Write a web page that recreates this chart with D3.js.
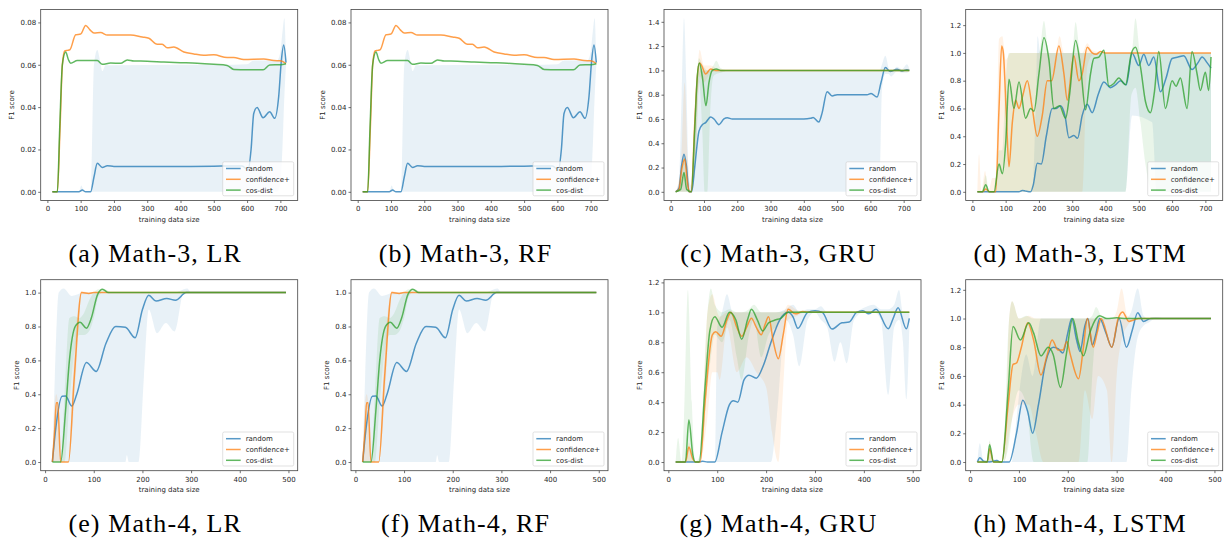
<!DOCTYPE html>
<html>
<head>
<meta charset="utf-8">
<script src="https://cdn.jsdelivr.net/npm/d3@7"></script>
<style>
  body { margin: 0; background: #fff; }
  svg { display: block; }
  text { font-family: "DejaVu Sans", sans-serif; fill: #262626; }
  .cap { font-family: "Liberation Serif", serif; fill: #000; }
</style>
</head>
<body>
<svg width="1230" height="540"></svg>
<script>
// series names + colours (matplotlib tab10)
const seriesNames = ['random', 'confidence+', 'cos-dist'];
const colors = ['#1f77b4', '#ff7f0e', '#2ca02c'];

// tick labels
const xTicksM3 = [0, 100, 200, 300, 400, 500, 600, 700];
const xTicksM4 = [0, 100, 200, 300, 400, 500];
const yTicksSmall = [0, 0.02, 0.04, 0.06, 0.08];
const yTicks14 = [0, 0.2, 0.4, 0.6, 0.8, 1.0, 1.2, 1.4];
const yTicks12 = [0, 0.2, 0.4, 0.6, 0.8, 1.0, 1.2];
const yTicks10 = [0, 0.2, 0.4, 0.6, 0.8, 1.0];

// ---- Math-3, LR (RF panel looks the same) : [size, f1]  bands: [size, lo, hi]
const m3lr_random = [[15,0],[60,0],[95,0],[105,0.0008],[115,0],[130,0],[140,0.007],[150,0.0135],[165,0.0115],[180,0.0123],[200,0.012],[300,0.012],[400,0.012],[500,0.0121],[560,0.0122],[585,0.0122],[603,0.0102],[612,0.02],[620,0.037],[630,0.0398],[648,0.035],[668,0.0378],[683,0.0347],[695,0.045],[703,0.062],[710,0.0693],[717,0.061]];
const m3lr_randomBand = [[15,0,0],[95,0,0],[102,0,0.003],[110,0,0],[130,0,0],[140,0,0.06],[150,0,0.067],[158,0,0.062],[165,0,0.057],[175,0,0.0598],[200,0,0.0598],[400,0,0.060],[560,0,0.060],[600,0,0.0602],[620,0,0.062],[690,0,0.062],[700,0.004,0.066],[706,0.02,0.075],[712,0.045,0.082],[717,0.06,0.0615]];
const m3lr_conf = [[15,0],[30,0],[38,0.03],[45,0.06],[52,0.0665],[60,0.0668],[68,0.0672],[85,0.0742],[100,0.0745],[115,0.0786],[128,0.0765],[140,0.075],[160,0.0752],[180,0.074],[250,0.0741],[285,0.0731],[305,0.0725],[330,0.0697],[345,0.0697],[360,0.068],[380,0.0684],[410,0.066],[440,0.0651],[470,0.0645],[500,0.0647],[540,0.0634],[560,0.0634],[590,0.0625],[650,0.0627],[680,0.062],[700,0.0619],[717,0.0606]];
const m3lr_cos = [[15,0],[30,0],[37,0.03],[45,0.06],[55,0.066],[63,0.0625],[70,0.0607],[90,0.062],[150,0.062],[165,0.0602],[190,0.0608],[220,0.0607],[240,0.0623],[260,0.0618],[300,0.0617],[350,0.0613],[400,0.061],[450,0.0607],[500,0.0602],[540,0.0597],[560,0.0578],[600,0.0577],[630,0.0577],[648,0.0576],[668,0.0599],[700,0.06],[717,0.0605]];

// ---- Math-3, GRU
const m3gru_random = [[15,0],[25,0.03],[33,0.22],[40,0.31],[47,0.22],[55,0],[63,0],[72,0.2],[85,0.5],[95,0.553],[105,0.57],[120,0.616],[130,0.6],[145,0.553],[160,0.6],[170,0.61],[185,0.6],[300,0.6],[400,0.6],[420,0.605],[428,0.612],[445,0.575],[455,0.65],[470,0.825],[485,0.79],[500,0.8],[590,0.8],[602,0.81],[620,0.78],[632,0.9],[645,1.023],[660,0.99],[680,1.01],[695,0.995],[710,1.006],[717,1.0]];
const m3gru_randomBand = [[15,0,0],[25,0,0.1],[33,0,0.8],[40,0,1.43],[47,0,0.9],[55,0,0.1],[62,0,0.05],[75,0,0.8],[90,0,1.0],[300,0,1.0],[620,0,1.0],[628,0.1,1.0],[635,0.85,1.05],[645,0.97,1.12],[655,0.97,1.02],[662,0.95,0.98],[680,0.99,1.03],[695,0.98,1.01],[710,0.98,1.05],[717,0.99,1.01]];
const m3gru_conf = [[15,0],[25,0.02],[33,0.18],[42,0.27],[50,0.08],[56,0],[62,0],[72,0.55],[80,0.95],[87,1.06],[93,1.04],[105,0.97],[120,1.012],[135,1.0],[717,1.0]];
const m3gru_confBand = [[15,0,0],[30,0,0.2],[42,0,0.9],[52,0,0.25],[58,0,0],[65,0,0.1],[75,0.3,0.7],[87,0.95,1.17],[100,0.9,1.04],[120,0.98,1.04],[140,0.99,1.01],[170,1.0,1.0]];
const m3gru_cos = [[15,0],[30,0.02],[40,0.16],[48,0.02],[62,0],[72,0.5],[80,0.95],[86,1.06],[95,0.95],[106,0.71],[115,0.9],[125,1.0],[137,1.012],[150,1.0],[717,1.0]];
const m3gru_cosBand = [[15,0,0],[30,0,0.05],[40,0,0.3],[50,0,0.02],[62,0,0],[75,0.2,0.8],[85,0.9,1.1],[95,0.5,1.05],[102,0,1.02],[110,0,1.0],[118,0.6,1.0],[128,0.95,1.04],[137,0.97,1.08],[150,0.98,1.02],[170,1.0,1.0]];

// ---- Math-3, LSTM
const m3lstm_random = [[15,0],[140,0],[150,0.01],[160,0.005],[175,0],[183,0.05],[195,0.206],[207,0.2],[222,0.4],[240,0.6],[252,0.6],[265,0.62],[278,0.55],[290,0.39],[305,0.405],[316,0.385],[330,0.55],[345,0.63],[360,0.57],[378,0.7],[395,0.79],[415,0.75],[430,0.77],[445,0.8],[462,0.77],[480,0.997],[500,0.91],[515,0.99],[530,0.91],[545,0.97],[565,0.72],[582,0.82],[600,0.96],[618,0.97],[635,0.98],[660,0.88],[678,0.93],[690,0.97],[705,0.93],[717,0.89]];
const m3lstm_randomBand = [[15,0,0],[180,0,0],[190,0,0.6],[196,0,1.12],[205,0,1.0],[460,0,1.0],[480,0.55,1.0],[540,0.5,1.0],[555,0,1.0],[717,0,1.0]];
const m3lstm_conf = [[15,0],[30,0],[40,0.02],[52,0],[70,0],[80,0.6],[88,1.05],[93,1.0],[102,0.55],[110,0.18],[120,0.5],[130,0.66],[140,0.6],[150,0.68],[165,0.8],[180,0.6],[195,0.4],[210,0.55],[225,0.8],[238,0.8],[260,1.05],[275,0.85],[285,0.66],[305,0.98],[320,0.8],[330,0.85],[345,1.04],[360,1.0],[372,0.99],[385,1.01],[400,1.0],[717,1.0]];
const m3lstm_confBand = [[15,0,0],[20,0,0.27],[27,0,0],[38,0,0.15],[48,0,0],[60,0,0.1],[70,0,0.1],[80,0,1.1],[90,0,1.12],[100,0,0.95],[115,0,1.0],[250,0,1.0],[262,0,1.12],[275,0,1.0],[330,0,1.0],[345,0.9,1.07],[360,0.98,1.02],[400,1.0,1.0],[717,1.0,1.0]];
const m3lstm_cos = [[15,0],[30,0],[40,0.05],[50,0],[65,0],[80,0.2],[90,0.13],[100,0.35],[110,0.81],[125,0.6],[140,0.79],[160,0.53],[175,0.6],[185,0.58],[200,0.85],[215,1.11],[230,0.95],[245,0.6],[262,0.62],[280,0.53],[292,0.7],[310,1.09],[325,0.9],[340,0.59],[355,0.85],[365,0.96],[380,0.97],[395,1.02],[410,0.76],[425,0.78],[440,0.82],[460,0.77],[478,1.0],[490,1.04],[505,0.9],[520,0.65],[535,0.57],[547,0.72],[560,1.01],[580,0.6],[600,0.8],[612,0.76],[625,0.82],[645,0.6],[660,1.01],[675,0.85],[685,0.73],[700,0.86],[710,0.73],[717,0.97]];
const m3lstm_cosBand = [[15,0,0],[30,0,0],[40,0,0.12],[50,0,0],[65,0,0],[80,0,0.3],[90,0,0.3],[100,0,0.8],[110,0,1.0],[200,0,1.0],[215,0,1.23],[230,0,1.0],[300,0,1.0],[310,0,1.22],[325,0,1.0],[460,0,1.0],[478,0.7,1.0],[490,0.75,1.25],[505,0.5,1.0],[520,0.2,1.0],[540,0,1.0],[717,0,1.0]];

// ---- Math-4, LR (RF panel looks the same)
const m4lr_random = [[15,0],[22,0.2],[35,0.388],[42,0.39],[55,0.33],[65,0.4],[85,0.587],[105,0.535],[125,0.7],[145,0.8],[165,0.795],[185,0.734],[200,0.9],[213,0.984],[228,0.95],[250,0.965],[268,0.955],[290,1.0],[495,1.0]];
const m4lr_randomBand = [[15,0,0],[20,0,0.5],[28,0,1.0],[38,0,1.025],[55,0,0.98],[80,0,1.0],[165,0,1.0],[168,0.04,1.0],[172,0,1.0],[192,0,1.0],[203,0.5,1.0],[213,0.9,1.0],[230,0.76,1.0],[248,0.82,1.0],[266,0.77,1.0],[285,1.0,1.02],[292,1.0,1.025],[300,1.0,1.0],[495,1.0,1.0]];
const m4lr_conf = [[15,0],[20,0.2],[23,0.35],[26,0.35],[32,0],[48,0],[60,0.5],[75,1.0],[90,0.995],[100,1.0],[495,1.0]];
const m4lr_confBand = [[15,0,0],[20,0,0.35],[23,0,0.4],[28,0,0.3],[32,0,0],[48,0,0],[60,0.35,0.65],[75,0.99,1.01],[90,0.99,1.0],[100,1.0,1.0]];
const m4lr_cos = [[15,0],[32,0],[42,0.3],[50,0.6],[62,0.8],[72,0.825],[85,0.79],[95,0.85],[108,0.99],[118,1.02],[130,1.0],[495,1.0]];
const m4lr_cosBand = [[15,0,0],[32,0,0],[40,0,0.4],[50,0.35,0.85],[60,0.65,0.86],[70,0.75,0.85],[80,0.75,0.88],[90,0.77,0.95],[100,0.85,1.0],[110,0.98,1.02],[120,1.0,1.02],[135,1.0,1.0]];

// ---- Math-4, GRU
const m4gru_random = [[15,0],[60,0],[70,0.005],[80,0],[95,0],[110,0.2],[125,0.384],[133,0.41],[142,0.4],[155,0.55],[165,0.58],[180,0.56],[195,0.65],[210,0.8],[228,0.95],[245,1.0],[255,0.97],[265,0.893],[285,1.0],[300,1.01],[315,1.0],[335,0.888],[355,0.93],[370,0.935],[385,1.0],[398,1.01],[410,0.99],[425,1.02],[450,0.89],[460,0.96],[470,1.03],[487,0.89],[493,0.96]];
const m4gru_randomBand = [[15,0,0],[95,0,0],[100,0,0.9],[110,0,1.0],[120,0,1.12],[132,0,1.0],[210,0,1.0],[222,0.3,1.0],[240,0.95,1.02],[255,0.85,1.05],[268,0.64,1.0],[285,0.95,1.02],[300,1.0,1.02],[312,0.95,1.04],[325,0.9,1.0],[340,0.67,1.0],[352,0.8,1.0],[365,0.66,1.0],[380,0.95,1.0],[400,1.0,1.03],[420,1.0,1.05],[435,0.95,1.02],[450,0.45,1.02],[462,0.9,1.05],[472,0.95,1.15],[480,0.8,1.0],[487,0.42,1.0],[493,0.9,1.0]];
const m4gru_conf = [[15,0],[35,0],[42,0.1],[50,0.02],[56,0],[65,0],[75,0.4],[90,0.85],[97,0.87],[108,0.84],[120,0.95],[128,1.0],[140,0.9],[150,0.84],[160,0.9],[170,0.96],[180,0.9],[190,0.85],[198,0.92],[205,0.97],[215,0.8],[225,0.69],[235,0.85],[245,1.02],[260,0.99],[275,1.005],[290,1.0],[493,1.0]];
const m4gru_confBand = [[15,0,0],[35,0,0],[42,0,0.13],[52,0,0],[65,0,0],[80,0.3,1.0],[90,0.6,1.12],[100,0.6,1.0],[105,0.55,0.97],[120,0.9,1.0],[140,0.6,1.0],[160,0.7,1.0],[180,0.6,1.0],[200,0.5,1.0],[212,0.2,1.0],[225,0,1.0],[235,0.5,1.0],[245,0.95,1.05],[260,0.97,1.02],[280,1.0,1.0],[493,1.0,1.0]];
const m4gru_cos = [[15,0],[35,0],[42,0.28],[50,0.05],[55,0],[63,0],[75,0.5],[85,0.88],[95,0.97],[110,0.9],[125,1.0],[138,0.95],[150,0.82],[162,0.95],[170,1.02],[182,0.95],[193,0.875],[205,0.93],[220,0.95],[230,0.96],[245,1.0],[493,1.0]];
const m4gru_cosBand = [[15,0,0],[20,0,0.16],[27,0,0],[32,0,0.3],[40,0,1.15],[48,0,0.4],[55,0,0],[65,0,0.05],[80,0.5,1.0],[87,0.7,1.16],[95,0.85,1.05],[110,0.8,1.0],[125,0.95,1.02],[140,0.7,1.0],[150,0.55,1.0],[165,0.85,1.02],[175,0.95,1.05],[190,0.7,1.0],[205,0.85,1.0],[220,0.9,1.0],[245,1.0,1.01],[493,0.995,1.005]];

// ---- Math-4, LSTM
const m4lstm_random = [[15,0],[20,0.03],[28,0.005],[40,0],[55,0.01],[62,0],[80,0],[95,0.2],[108,0.43],[118,0.35],[128,0.2],[140,0.4],[155,0.7],[170,0.8],[180,0.79],[190,0.76],[200,0.9],[208,1.0],[218,0.85],[225,0.77],[235,0.95],[241,1.0],[250,0.815],[258,0.9],[265,1.0],[278,0.9],[290,0.8],[305,1.0],[320,0.8],[332,0.92],[343,1.04],[355,0.98],[370,1.0],[493,1.0]];
const m4lstm_randomBand = [[15,0,0],[20,0,0.13],[28,0,0],[55,0,0.02],[62,0,0],[85,0,0],[95,0,0.3],[105,0,0.6],[115,0,0.75],[128,0,0.6],[145,0,1.0],[320,0,1.0],[330,0.5,1.05],[343,0.87,1.21],[355,0.95,1.02],[365,0.97,1.0],[380,1.0,1.01],[400,1.0,1.0],[493,1.0,1.0]];
const m4lstm_conf = [[15,0],[35,0],[40,0.093],[48,0],[65,0],[78,0.4],[88,0.68],[95,0.69],[105,0.8],[118,0.97],[130,0.85],[145,0.606],[158,0.75],[168,0.85],[180,0.78],[190,0.78],[198,0.84],[205,0.75],[222,0.58],[232,0.8],[240,1.0],[252,0.8],[260,0.9],[268,1.0],[290,0.8],[303,1.0],[312,1.046],[325,0.98],[335,0.99],[345,1.0],[493,1.0]];
const m4lstm_confBand = [[15,0,0],[35,0,0],[40,0,0.14],[48,0,0],[70,0,0],[80,0.2,1.0],[86,0.3,1.12],[100,0.4,1.0],[120,0.4,1.02],[135,0.2,1.0],[150,0,1.0],[222,0,1.0],[235,0.5,1.0],[250,0.3,1.0],[262,0.6,1.0],[280,0.5,1.0],[290,0,1.0],[300,0.6,1.05],[310,0.85,1.21],[322,0.95,1.02],[340,1.0,1.0],[493,1.0,1.0]];
const m4lstm_cos = [[15,0],[35,0],[40,0.12],[48,0],[65,0],[78,0.5],[88,0.944],[103,0.85],[120,0.97],[130,0.9],[145,0.74],[160,0.8],[170,0.75],[185,0.52],[197,0.75],[210,1.0],[222,0.83],[232,0.74],[245,0.9],[258,1.0],[265,1.02],[280,1.0],[300,1.005],[320,1.0],[493,1.0]];
const m4lstm_cosBand = [[15,0,0],[35,0,0],[40,0,0.15],[48,0,0],[68,0,0],[78,0.1,0.9],[86,0.3,1.12],[100,0.5,1.0],[115,0.4,1.02],[130,0,1.0],[240,0,1.0],[250,0.6,1.02],[258,0.9,1.08],[270,0.98,1.01],[290,1.0,1.0],[493,1.0,1.0]];

// panel table
const panels = [
  {cap: '(a) Math-3, LR',   col: 0, row: 0, lines: [m3lr_random, m3lr_conf, m3lr_cos],       bands: [m3lr_randomBand, null, null], xt: xTicksM3, yt: yTicksSmall, fmt: '.2f'},
  {cap: '(b) Math-3, RF',   col: 1, row: 0, lines: [m3lr_random, m3lr_conf, m3lr_cos],       bands: [m3lr_randomBand, null, null], xt: xTicksM3, yt: yTicksSmall, fmt: '.2f'},
  {cap: '(c) Math-3, GRU',  col: 2, row: 0, lines: [m3gru_random, m3gru_conf, m3gru_cos],    bands: [m3gru_randomBand, m3gru_confBand, m3gru_cosBand], xt: xTicksM3, yt: yTicks14, fmt: '.1f'},
  {cap: '(d) Math-3, LSTM', col: 3, row: 0, lines: [m3lstm_random, m3lstm_conf, m3lstm_cos], bands: [m3lstm_randomBand, m3lstm_confBand, m3lstm_cosBand], xt: xTicksM3, yt: yTicks12, fmt: '.1f'},
  {cap: '(e) Math-4, LR',   col: 0, row: 1, lines: [m4lr_random, m4lr_conf, m4lr_cos],       bands: [m4lr_randomBand, m4lr_confBand, m4lr_cosBand], xt: xTicksM4, yt: yTicks10, fmt: '.1f'},
  {cap: '(f) Math-4, RF',   col: 1, row: 1, lines: [m4lr_random, m4lr_conf, m4lr_cos],       bands: [m4lr_randomBand, m4lr_confBand, m4lr_cosBand], xt: xTicksM4, yt: yTicks10, fmt: '.1f'},
  {cap: '(g) Math-4, GRU',  col: 2, row: 1, lines: [m4gru_random, m4gru_conf, m4gru_cos],    bands: [m4gru_randomBand, m4gru_confBand, m4gru_cosBand], xt: xTicksM4, yt: yTicks12, fmt: '.1f'},
  {cap: '(h) Math-4, LSTM', col: 3, row: 1, lines: [m4lstm_random, m4lstm_conf, m4lstm_cos], bands: [m4lstm_randomBand, m4lstm_confBand, m4lstm_cosBand], xt: xTicksM4, yt: yTicks12, fmt: '.1f'}
];

// layout
const axLeft = [40.7, 351, 664, 965.7];
const axTop = [9.5, 279.7];
const W = 257, H = 191;

const svg = d3.select('svg');

panels.forEach((p, i) => {
  const left = axLeft[p.col], top = axTop[p.row];

  // matplotlib-like 5% margins
  const xs = p.lines.flat().map(d => d[0]);
  const xe = d3.extent(xs), xp = (xe[1] - xe[0]) * 0.05;
  let ys = p.lines.flat().map(d => d[1]);
  p.bands.forEach(b => { if (b) b.forEach(d => ys.push(d[1], d[2])); });
  const ye = d3.extent(ys), yp = (ye[1] - ye[0]) * 0.05;

  const x = d3.scaleLinear().domain([xe[0] - xp, xe[1] + xp]).range([left, left + W]);
  const y = d3.scaleLinear().domain([ye[0] - yp, ye[1] + yp]).range([top + H, top]);

  const g = svg.append('g');
  g.append('clipPath').attr('id', 'clip' + i)
    .append('rect').attr('x', left).attr('y', top).attr('width', W).attr('height', H);
  const plot = g.append('g').attr('clip-path', `url(#clip${i})`);

  const area = d3.area().x(d => x(d[0])).y0(d => y(d[1])).y1(d => y(d[2])).curve(d3.curveMonotoneX);
  const line = d3.line().x(d => x(d[0])).y(d => y(d[1])).curve(d3.curveMonotoneX);

  p.bands.forEach((b, k) => {
    if (!b) return;
    plot.append('path').datum(b)
      .attr('fill', colors[k]).attr('fill-opacity', 0.1)
      .attr('d', area);
  });
  p.lines.forEach((ln, k) => {
    plot.append('path').datum(ln)
      .attr('fill', 'none').attr('stroke', colors[k])
      .attr('stroke-opacity', 0.75).attr('stroke-width', 1.5)
      .attr('d', line);
  });

  // axes
  const xa = g.append('g').attr('transform', `translate(0,${top + H})`)
    .call(d3.axisBottom(x).tickValues(p.xt).tickSize(2.5).tickPadding(3.5).tickFormat(d3.format('d')));
  const ya = g.append('g').attr('transform', `translate(${left},0)`)
    .call(d3.axisLeft(y).tickValues(p.yt).tickSize(2.5).tickPadding(2).tickFormat(d3.format(p.fmt)));
  [xa, ya].forEach(a => {
    a.select('.domain').remove();
    a.selectAll('line').attr('stroke', '#333').attr('stroke-width', 0.7);
    a.selectAll('text').style('font-size', '7px').attr('fill', '#262626');
  });

  g.append('rect').attr('x', left).attr('y', top).attr('width', W).attr('height', H)
    .attr('fill', 'none').attr('stroke', '#444').attr('stroke-width', 0.8);

  g.append('text').attr('x', left + W / 2).attr('y', top + H + 21)
    .attr('text-anchor', 'middle').style('font-size', '7px').text('training data size');

  // y label sits just left of the tick labels (bbox is in the axis group's coords)
  const bb = ya.node().getBBox();
  g.append('text')
    .attr('transform', `translate(${left + bb.x - 8.7},${top + H / 2}) rotate(-90)`)
    .attr('text-anchor', 'middle').attr('dy', '0.35em')
    .style('font-size', '7px').text('F1 score');

  // legend
  const lw = 71, lh = 34;
  const lx = left + W - 4 - lw, ly = top + H - 4.7 - lh;
  const leg = g.append('g').attr('transform', `translate(${lx},${ly})`);
  leg.append('rect').attr('width', lw).attr('height', lh).attr('rx', 1.5)
    .attr('fill', '#fff').attr('fill-opacity', 0.8).attr('stroke', '#cccccc').attr('stroke-width', 0.6);
  seriesNames.forEach((s, k) => {
    const yy = 6.7 + k * 10.8;
    leg.append('line').attr('x1', 3.3).attr('x2', 18).attr('y1', yy).attr('y2', yy)
      .attr('stroke', colors[k]).attr('stroke-opacity', 0.75).attr('stroke-width', 1.5);
    leg.append('text').attr('x', 23).attr('y', yy).attr('dy', '0.35em')
      .style('font-size', '7px').text(s);
  });

  // caption
  svg.append('text').attr('class', 'cap')
    .attr('x', left + W / 2 - 14).attr('y', top + H + 61.5)
    .attr('text-anchor', 'middle')
    .style('font-size', '26px').style('letter-spacing', '1.1px')
    .text(p.cap);
});
</script>
</body>
</html>
